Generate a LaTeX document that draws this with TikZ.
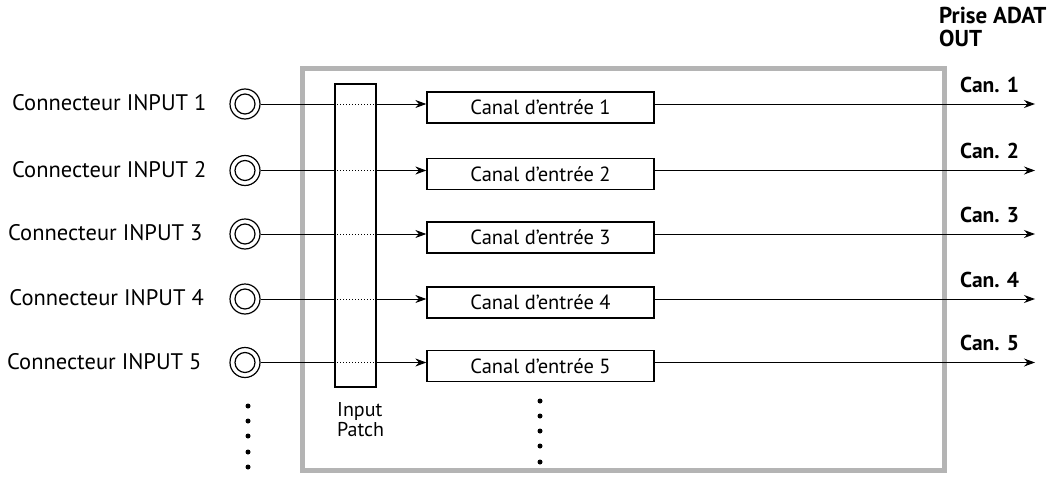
\documentclass[tikz,border=0pt]{standalone}
\usepackage{fontspec}
\setmainfont{PT Sans}[BoldFont={PT Sans Bold}]
\usetikzlibrary{arrows.meta}
\definecolor{framegray}{RGB}{180,180,180}
\begin{document}
\begin{tikzpicture}[x=1pt,y=-1pt,
  wire/.style={line width=1pt},
  arr/.style={wire,-{Stealth[length=11pt,width=8pt]}},
  jack/.style={circle,draw,line width=1.2pt,minimum size=30pt,inner sep=0pt,
    path picture={\draw[line width=1.2pt] (path picture bounding box.center) circle[radius=10pt];}},
  canal/.style={draw,line width=1.3pt,minimum width=227pt,minimum height=31pt,inner sep=0pt,
    font=\fontsize{20.5}{22}\selectfont},
  conlabel/.style={anchor=east,inner sep=0pt,font=\fontsize{22.5}{24}\selectfont},
  canlabel/.style={anchor=base west,inner sep=0pt,font=\bfseries\fontsize{21.5}{22}\selectfont},
  dotmark/.style={circle,fill,minimum size=5pt,inner sep=0pt}
]
\useasboundingbox (0,0) rectangle (1055,479);

% frame
\node[draw=framegray,line width=5pt,minimum width=642pt,minimum height=402pt,inner sep=0pt] (frame) at (623,269) {};
% input patch
\node[draw,line width=1.3pt,minimum width=41pt,minimum height=303pt,inner sep=0pt] (patch) at (355.5,235.5) {};
\node[anchor=base west,inner sep=0pt,align=left,font=\fontsize{20}{20}\selectfont] (patchlabel) at (337,436) {Input\\Patch};

% header
\node[anchor=base west,inner sep=0pt,align=left,font=\bfseries\fontsize{23}{23.4}\selectfont] (adat) at (939,46.7) {Prise ADAT\\OUT};

\foreach \i/\y/\lx/\cx in {1/104/206.7/960, 2/170.5/206.7/960, 3/234/202.7/960, 4/299/204/960, 5/362.5/201.7/960} {
  \node[jack] (jack\i) at (245,\y) {};
  \node[conlabel] (con\i) at (\lx,\y-1) {Connecteur INPUT \i};
  \node[canal] (canal\i) at (540.5,\y+3.5) {Canal d’entrée \i};
  \coordinate (out\i) at (1035,\y);
  \node[canlabel] (can\i) at (\cx,\y-12) {Can. \i};
  \draw[wire] (jack\i) -- (patch.west |- jack\i);
  \draw[wire,dotted] (patch.west |- jack\i) -- (patch.east |- jack\i);
  \draw[arr] (patch.east |- jack\i) -- (canal\i.west |- jack\i);
  \draw[arr] (canal\i.east |- jack\i) -- (out\i);
}

% continuation dots
\foreach \k/\y in {1/406,2/421,3/436,4/452,5/467} {
  \node[dotmark] (ld\k) at (248,\y) {};
}
\foreach \k/\y in {1/401,2/416,3/431,4/446,5/462} {
  \node[dotmark] (md\k) at (540,\y) {};
}
\end{tikzpicture}
\end{document}
